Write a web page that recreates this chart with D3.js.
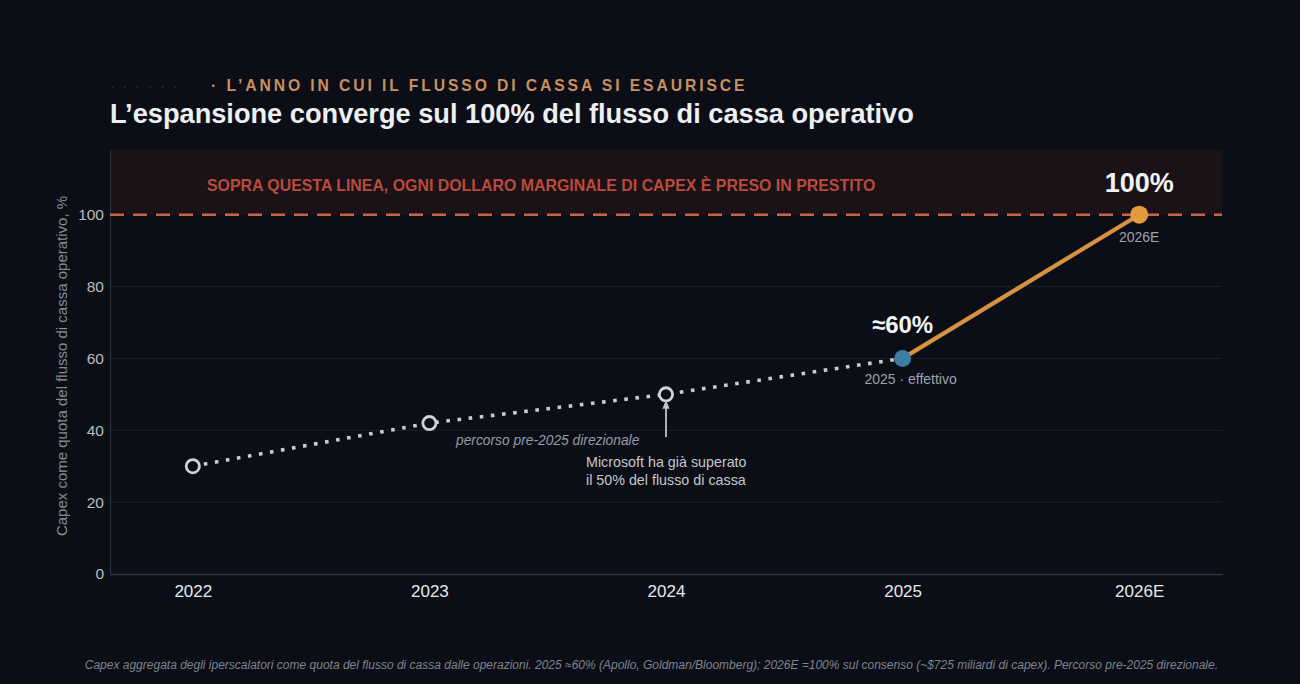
<!DOCTYPE html>
<html><head><meta charset="utf-8">
<script src="https://cdn.jsdelivr.net/npm/d3@7/dist/d3.min.js"></script>
<style>
html,body{margin:0;padding:0;background:#0b0e16;}
svg{display:block;font-family:"Liberation Sans",Arial,sans-serif;}
</style></head><body>
<svg id="c" width="1300" height="684"></svg>
<script>
const years = ["2022","2023","2024","2025","2026E"];
const shareValues = [30, 42, 50, 60, 100];
const yTicks = [0, 20, 40, 60, 80, 100];
const threshold = 100;

const svg = d3.select("#c");
const W = 1300, H = 684;
svg.append("rect").attr("width",W).attr("height",H).attr("fill","#0b0e16");

const m = {l:110, r:1222, t:150, b:574};
const x = d3.scalePoint().domain(years).range([m.l, m.r]).padding(0.35);
const y = d3.scaleLinear().domain([0, 118]).range([m.b, m.t]);

// danger band
svg.append("rect").attr("x", m.l).attr("y", y(118)).attr("width", m.r - m.l)
  .attr("height", y(threshold) - y(118)).attr("fill", "#1a1216");

// grid
svg.append("g").selectAll("line").data(yTicks.filter(d=>d>0 && d<100)).join("line")
  .attr("x1", m.l).attr("x2", m.r).attr("y1", d=>y(d)).attr("y2", d=>y(d))
  .attr("stroke", "#1b202b").attr("stroke-width", 1);

// axes
const yAxis = svg.append("g").attr("transform", `translate(${m.l},0)`)
  .call(d3.axisLeft(y).tickValues(yTicks).tickSize(0).tickPadding(6));
yAxis.select(".domain").attr("stroke","#2a303c").attr("stroke-width",1.2);
yAxis.selectAll("text").attr("fill","#b9bdc5").attr("font-size",15.5);

const xAxis = svg.append("g").attr("transform", `translate(0,${m.b})`)
  .call(d3.axisBottom(x).tickSize(0).tickPadding(11));
xAxis.select(".domain").attr("stroke","#2f3542").attr("stroke-width",1.5);
xAxis.selectAll("text").attr("fill","#e6e8ec").attr("font-size",17);

// y label
svg.append("text").attr("transform", `translate(67,${(m.t+m.b)/2 + 4}) rotate(-90)`)
  .attr("text-anchor","middle").attr("fill","#858a94").attr("font-size",15)
  .text("Capex come quota del flusso di cassa operativo, %");

// threshold line
svg.append("line").attr("x1", m.l).attr("x2", m.r).attr("y1", y(threshold)).attr("y2", y(threshold))
  .attr("stroke","#c8644a").attr("stroke-width",2.5).attr("stroke-dasharray","14,9");

svg.append("text").attr("x", 207).attr("y", 191).attr("fill","#b94a3c")
  .attr("font-size",15.9).attr("font-weight","bold")
  .text("SOPRA QUESTA LINEA, OGNI DOLLARO MARGINALE DI CAPEX È PRESO IN PRESTITO");

// dotted historical path
const pts = years.map((d,i)=>({year:d, v:shareValues[i]}));
const line = d3.line().x(d=>x(d.year)).y(d=>y(d.v));
svg.append("path").datum(pts.slice(0,4)).attr("d", line).attr("fill","none")
  .attr("stroke","#c9ccd2").attr("stroke-width",3.6).attr("stroke-dasharray","3.6,7.6");

// forecast segment
svg.append("path").datum(pts.slice(3)).attr("d", line).attr("fill","none")
  .attr("stroke","#d6933f").attr("stroke-width",4.2);

// open circles
svg.append("g").selectAll("circle").data(pts.slice(0,3)).join("circle")
  .attr("cx", d=>x(d.year)).attr("cy", d=>y(d.v)).attr("r", 6.6)
  .attr("fill","#0b0e16").attr("stroke","#cfd2d8").attr("stroke-width",2.8);

svg.append("circle").attr("cx", x("2025")).attr("cy", y(60)).attr("r", 8.5).attr("fill","#3f7ca4");
svg.append("circle").attr("cx", x("2026E")).attr("cy", y(100)).attr("r", 9).attr("fill","#e39b3d");

// point labels
svg.append("text").attr("x", x("2025")).attr("y", y(60) - 25).attr("text-anchor","middle")
  .attr("fill","#f2f3f5").attr("font-size",24).attr("font-weight","bold").text("≈60%");
svg.append("text").attr("x", x("2025") + 8).attr("y", y(60) + 26).attr("text-anchor","middle")
  .attr("fill","#9ea2aa").attr("font-size",14).text("2025 · effettivo");
svg.append("text").attr("x", x("2026E")).attr("y", y(100) - 23).attr("text-anchor","middle")
  .attr("fill","#f2f3f5").attr("font-size",27).attr("font-weight","bold").text("100%");
svg.append("text").attr("x", x("2026E")).attr("y", y(100) + 27).attr("text-anchor","middle")
  .attr("fill","#9ea2aa").attr("font-size",14).text("2026E");

// annotations
svg.append("text").attr("x", 456).attr("y", 445).attr("fill","#979ba4")
  .attr("font-size",13.8).attr("font-style","italic").text("percorso pre-2025 direzionale");

svg.append("defs").append("marker").attr("id","ah").attr("viewBox","0 0 10 10")
  .attr("refX",5).attr("refY",5).attr("markerWidth",5).attr("markerHeight",5).attr("orient","auto")
  .append("path").attr("d","M0,1 L10,5 L0,9 z").attr("fill","#bfc2c8");
svg.append("line").attr("x1", x("2024")).attr("x2", x("2024")).attr("y1", 437).attr("y2", y(50) + 10)
  .attr("stroke","#bfc2c8").attr("stroke-width",1.8).attr("marker-end","url(#ah)");
svg.append("text").attr("x", 586).attr("y", 467).attr("fill","#c4c7cd").attr("font-size",14.3)
  .text("Microsoft ha già superato");
svg.append("text").attr("x", 586).attr("y", 485).attr("fill","#c4c7cd").attr("font-size",14.3)
  .text("il 50% del flusso di cassa");

// header
svg.append("text").attr("x", 110).attr("y", 91).attr("fill","#2c313c").attr("font-size",14)
  .attr("letter-spacing",2).text("· · · · · ·");
svg.append("text").attr("x", 211).attr("y", 91).attr("fill","#c98f5e").attr("font-size",15.7)
  .attr("font-weight","bold").attr("letter-spacing",2.9).text("· L’ANNO IN CUI IL FLUSSO DI CASSA SI ESAURISCE");
svg.append("text").attr("x", 110).attr("y", 123).attr("fill","#eeeff1").attr("font-size",27.2)
  .attr("font-weight","bold").text("L’espansione converge sul 100% del flusso di cassa operativo");

// footer
svg.append("text").attr("x", 1218).attr("y", 669).attr("text-anchor","end").attr("fill","#7f848e")
  .attr("font-size",12).attr("font-style","italic")
  .text("Capex aggregata degli iperscalatori come quota del flusso di cassa dalle operazioni. 2025 ≈60% (Apollo, Goldman/Bloomberg); 2026E =100% sul consenso (~$725 miliardi di capex). Percorso pre-2025 direzionale.");
</script>
</body></html>
